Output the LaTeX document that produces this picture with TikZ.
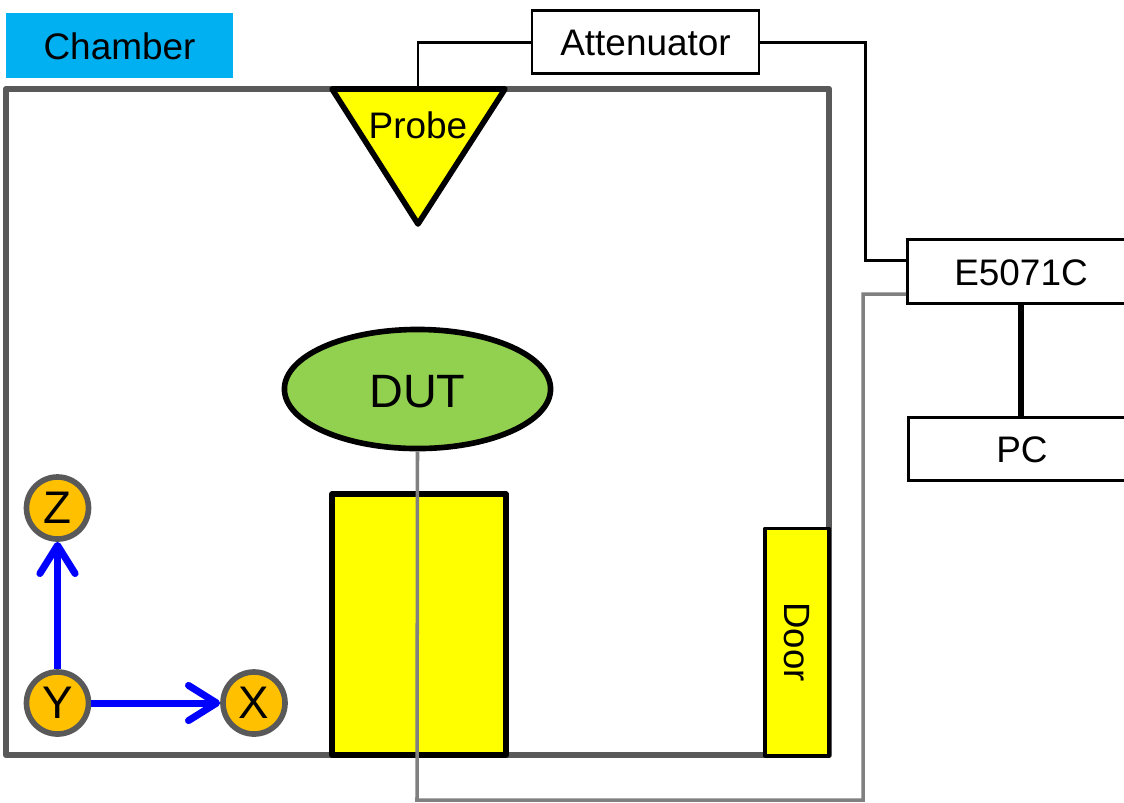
\documentclass[tikz,border=0pt]{standalone}
\usepackage{fontspec}
\setmainfont{Liberation Sans}
\usepackage{tikz}
\usetikzlibrary{arrows.meta,shapes.geometric}

\definecolor{chambergrey}{HTML}{595959}
\definecolor{cablegrey}{HTML}{808080}
\definecolor{labelblue}{HTML}{00B0F0}
\definecolor{axisorange}{HTML}{FFC000}
\definecolor{dutgreen}{HTML}{92D050}
\definecolor{partyellow}{RGB}{255,255,0}
\definecolor{axisblue}{RGB}{0,0,255}

\tikzset{
  instrbox/.style={draw=black,fill=white,line width=0.8pt,minimum width=2.27cm,minimum height=0.635cm,inner sep=0pt,text height=7.9pt,text depth=0pt,font=\fontsize{10.5}{12}\selectfont},
  yellowpart/.style={draw=black,fill=partyellow,line join=round},
  axisball/.style={circle,draw=chambergrey,fill=axisorange,line width=1.6pt,minimum size=0.62cm,inner sep=0pt,font=\fontsize{13}{15}\selectfont},
  axisline/.style={draw=axisblue,line width=2pt,-{Straight Barb[length=8pt,width=10pt,round]}},
  rfcable/.style={draw=black,line width=0.85pt},
  greycable/.style={draw=cablegrey,line width=1pt},
}

\begin{document}
\begin{tikzpicture}[x=0.01cm,y=-0.01cm]
  \useasboundingbox (0,0) rectangle (1124,802);
  % Chamber walls and its label
  \draw[chambergrey,line width=1.8pt,line join=round] (6,89) rectangle (829,755);
  \node[fill=labelblue,minimum width=2.27cm,minimum height=0.65cm,inner sep=0pt,text height=8.1pt,text depth=0pt,font=\fontsize{10.5}{12}\selectfont] (chamber) at (119.5,45.5) {Chamber};
  % Pedestal and door
  \draw[yellowpart,line width=1.6pt] (332,494) rectangle (506,755);
  \node[yellowpart,line width=1.1pt,minimum width=2.27cm,minimum height=0.64cm,inner sep=0pt,rotate=-90,font=\fontsize{10.4}{12}\selectfont] (door) at (797,642) {Door};
  % Probe
  \coordinate (probetop) at (418,89);
  \draw[yellowpart,line width=1.6pt] (332,89) -- (505,89) -- (418,224) -- cycle;
  \node[inner sep=0pt,font=\fontsize{10.5}{12}\selectfont] (probe) at (418,125) {Probe};
  % DUT
  \node[ellipse,draw=black,fill=dutgreen,line width=1.6pt,minimum width=2.66cm,minimum height=1.19cm,inner sep=0pt,text height=10.6pt,text depth=0pt,font=\fontsize{13.3}{16}\selectfont] (dut) at (417.5,389) {DUT};
  % Instruments
  \node[instrbox] (attenuator) at (645.5,42) {Attenuator};
  \node[instrbox] (vna) at (1021,271.5) {E5071C};
  \node[instrbox] (pc) at (1022,449) {PC};
  % Black cables
  \coordinate (rfbend) at (865,260);
  \draw[rfcable] (attenuator.west) -| (probetop);
  \draw[rfcable] (attenuator.east) -| (rfbend) -- (rfbend -| vna.west);
  \draw[black,line width=1.8pt] (vna.south) -- (vna.south |- pc.north);
  % Grey cable from the DUT, under the floor and up to the analyzer
  \coordinate (floorleft) at (417,800);
  \coordinate (floorright) at (863,800);
  \coordinate (vnaport) at (863,294);
  \draw[greycable] (dut.south) -- (floorleft) -- (floorright) -- (vnaport) -- (vnaport -| vna.west);
  % Axes
  \node[axisball] (axisz) at (57.5,508) {Z};
  \node[axisball] (axisy) at (57.5,703) {Y};
  \node[axisball] (axisx) at (254,703) {X};
  \draw[axisline] (axisy) -- (axisz);
  \draw[axisline] (axisy) -- (axisx);
\end{tikzpicture}
\end{document}
